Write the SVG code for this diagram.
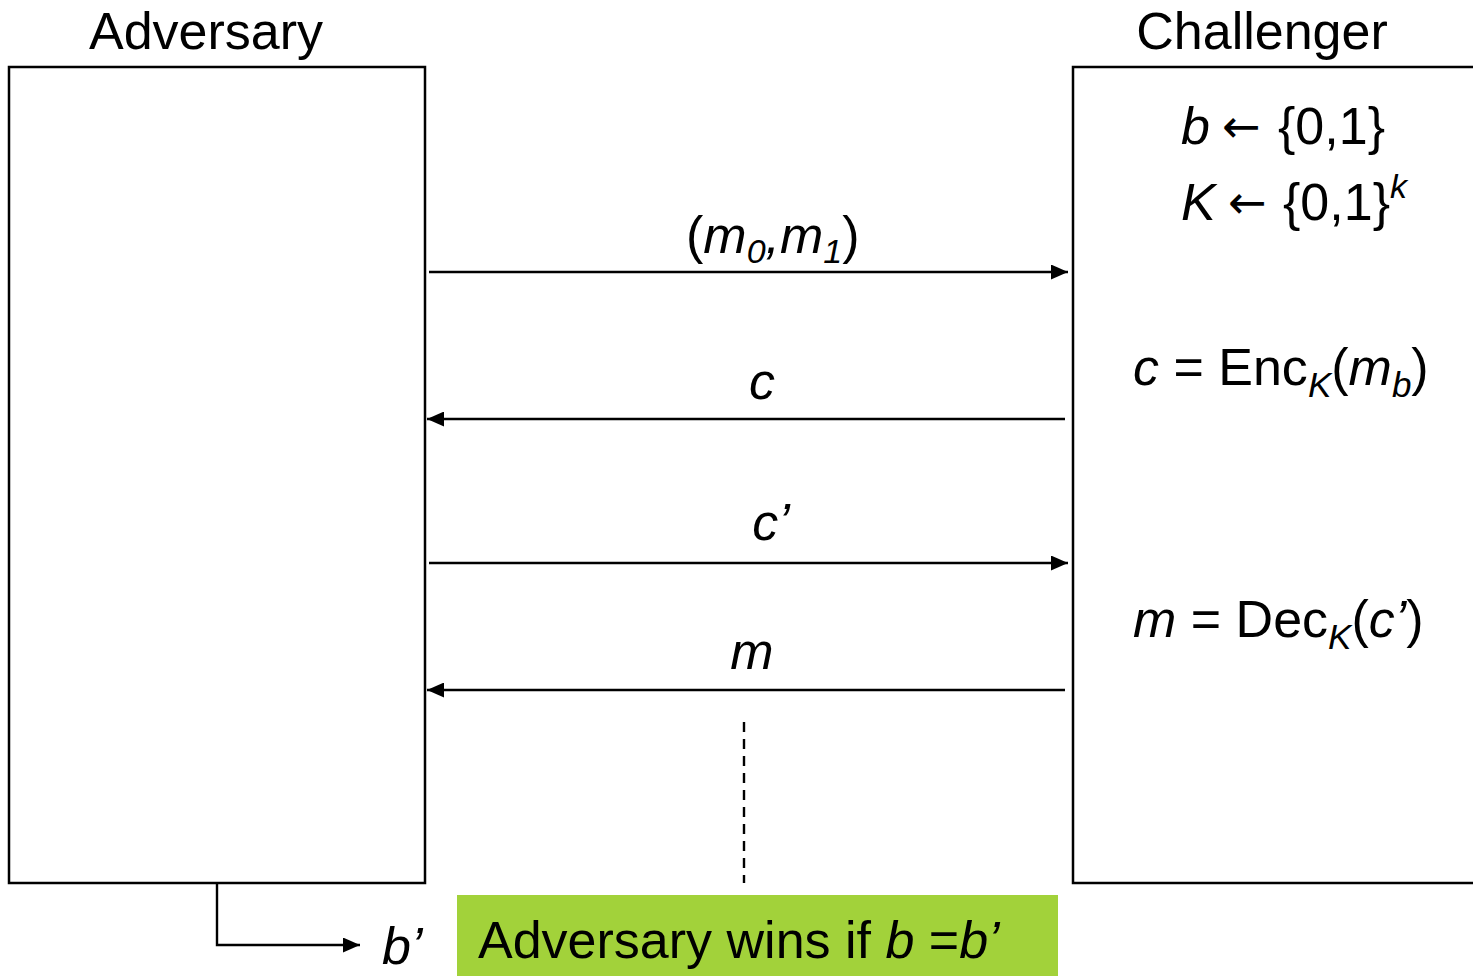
<svg xmlns="http://www.w3.org/2000/svg" width="1473" height="976" viewBox="0 0 1473 976">
<style>
text{font-family:"Liberation Sans",Arial,sans-serif;fill:#000}
.t{font-size:52px}
.i{font-style:italic}
.ar{font-family:"DejaVu Sans",sans-serif;font-size:46px}
.box{fill:#fff;stroke:#000;stroke-width:2.5}
.ln{fill:none;stroke:#000;stroke-width:2.4}
</style>
<defs>
<marker id="ah" markerUnits="userSpaceOnUse" markerWidth="17" markerHeight="15" refX="17" refY="7.5" orient="auto">
<path d="M0,0 L17,7.5 L0,15 Z" fill="#000"/>
</marker>
</defs>
<rect width="1473" height="976" fill="#fff"/>
<g id="adversary">
<rect class="box" x="9" y="67" width="416" height="816"/>
<text class="t" x="206" y="49" text-anchor="middle">Adversary</text>
</g>
<g id="challenger">
<rect class="box" x="1073" y="67" width="420" height="816"/>
<text class="t" x="1262" y="49" text-anchor="middle">Challenger</text>
<text class="t" x="1181" y="144"><tspan class="i">b</tspan><tspan class="ar" x="1222" dy="-2">←</tspan><tspan x="1278" dy="2">{0,1}</tspan></text>
<text class="t" x="1181" y="220"><tspan class="i">K</tspan><tspan class="ar" x="1228" dy="-2">←</tspan><tspan x="1283" dy="2">{0,1}</tspan><tspan class="i" font-size="34" dy="-22">k</tspan></text>
<text class="t" x="1133" y="385"><tspan class="i">c</tspan> = Enc<tspan class="i" font-size="35" dy="12">K</tspan><tspan dy="-12">(</tspan><tspan class="i">m</tspan><tspan class="i" font-size="35" dy="12">b</tspan><tspan dy="-12">)</tspan></text>
<text class="t" x="1133" y="637"><tspan class="i">m</tspan> = Dec<tspan class="i" font-size="35" dy="12">K</tspan><tspan dy="-12">(</tspan><tspan class="i">c’</tspan>)</text>
</g>
<g id="connectors">
<line class="ln" x1="429" y1="272" x2="1068" y2="272" marker-end="url(#ah)"/>
<line class="ln" x1="1065" y1="419" x2="427" y2="419" marker-end="url(#ah)"/>
<line class="ln" x1="429" y1="563" x2="1068" y2="563" marker-end="url(#ah)"/>
<line class="ln" x1="1065" y1="690" x2="427" y2="690" marker-end="url(#ah)"/>
<line class="ln" x1="744" y1="722" x2="744" y2="883" stroke-dasharray="10,7"/>
<polyline class="ln" points="217,883 217,945 360,945" marker-end="url(#ah)"/>
</g>
<g id="labels">
<text class="t" x="686" y="253">(<tspan class="i">m</tspan><tspan class="i" font-size="34" dy="10">0</tspan><tspan class="i" dy="-10">,m</tspan><tspan class="i" font-size="34" dy="10">1</tspan><tspan dy="-10">)</tspan></text>
<text class="t i" x="762" y="399" text-anchor="middle">c</text>
<text class="t i" x="771" y="540" text-anchor="middle">c’</text>
<text class="t i" x="752" y="669" text-anchor="middle">m</text>
<text class="t i" x="382" y="964">b’</text>
</g>
<g id="result">
<rect x="457" y="895" width="601" height="81" fill="#a2d23a"/>
<text class="t" x="478" y="958">Adversary wins if <tspan class="i">b</tspan> =<tspan class="i">b’</tspan></text>
</g>
</svg>
